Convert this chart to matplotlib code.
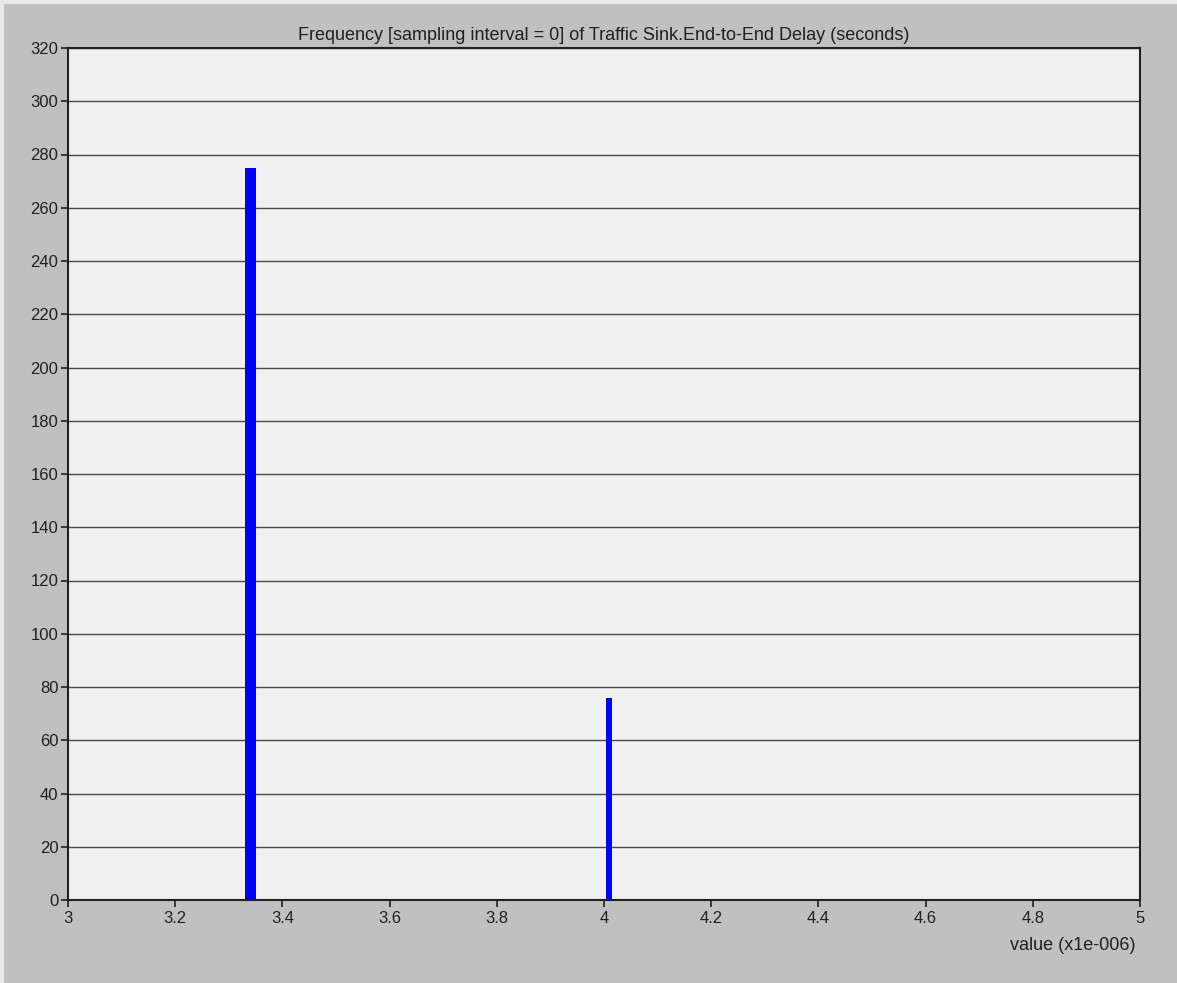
import matplotlib
matplotlib.use("Agg")
import matplotlib.pyplot as plt
from matplotlib.patches import Rectangle

# Histogram of end-to-end delay values (x1e-006 s)
bin_centers = [3.340, 4.009]
bin_widths = [0.020, 0.012]
counts = [275, 76]

x_ticks = [3.0, 3.2, 3.4, 3.6, 3.8, 4.0, 4.2, 4.4, 4.6, 4.8, 5.0]
x_tick_labels = ["3", "3.2", "3.4", "3.6", "3.8", "4", "4.2", "4.4", "4.6", "4.8", "5"]
y_ticks = list(range(0, 321, 20))

title = "Frequency [sampling interval = 0] of Traffic Sink.End-to-End Delay (seconds)"
x_label = "value (x1e-006)"

plt.rcParams["font.family"] = ["Liberation Sans", "DejaVu Sans"]

W, H = 1177, 983
fig = plt.figure(figsize=(W / 100, H / 100), dpi=100, facecolor="#C0C0C0")

# light bevel along the top and left window edges
fig.patches.append(Rectangle((0, 1 - 4 / H), 1, 4 / H, transform=fig.transFigure,
                             facecolor="#E8E8E8", edgecolor="none", zorder=0))
fig.patches.append(Rectangle((0, 0), 4 / W, 1, transform=fig.transFigure,
                             facecolor="#E8E8E8", edgecolor="none", zorder=0))

left, right, top, bottom = 68, 1140, 48, 900
ax = fig.add_axes([left / W, 1 - bottom / H, (right - left) / W, (bottom - top) / H])
ax.set_facecolor("#F0F0F0")

ax.bar(bin_centers, counts, width=bin_widths, color="#0000FF", edgecolor="none", zorder=3)

ax.set_xlim(3.0, 5.0)
ax.set_ylim(0, 320)
ax.set_xticks(x_ticks)
ax.set_xticklabels(x_tick_labels)
ax.set_yticks(y_ticks)
ax.set_yticklabels([str(v) for v in y_ticks])

ax.yaxis.grid(True, color="#484848", linewidth=1.0, zorder=1)
ax.xaxis.grid(False)
ax.set_axisbelow(True)

for side in ["left", "bottom", "top", "right"]:
    ax.spines[side].set_color("#202020")
    ax.spines[side].set_linewidth(1.5)

ax.tick_params(axis="both", direction="out", length=5, width=1.2, color="#202020",
               labelsize=12, labelcolor="#202020")
ax.tick_params(axis="x", pad=3)
ax.tick_params(axis="y", pad=2)

ax.set_title(title, fontsize=13, color="#202020", pad=6)
fig.text(1135 / W, 1 - 945 / H, x_label, ha="right", va="center", fontsize=13, color="#202020")

fig.savefig("out.png", dpi=100, facecolor=fig.get_facecolor())
